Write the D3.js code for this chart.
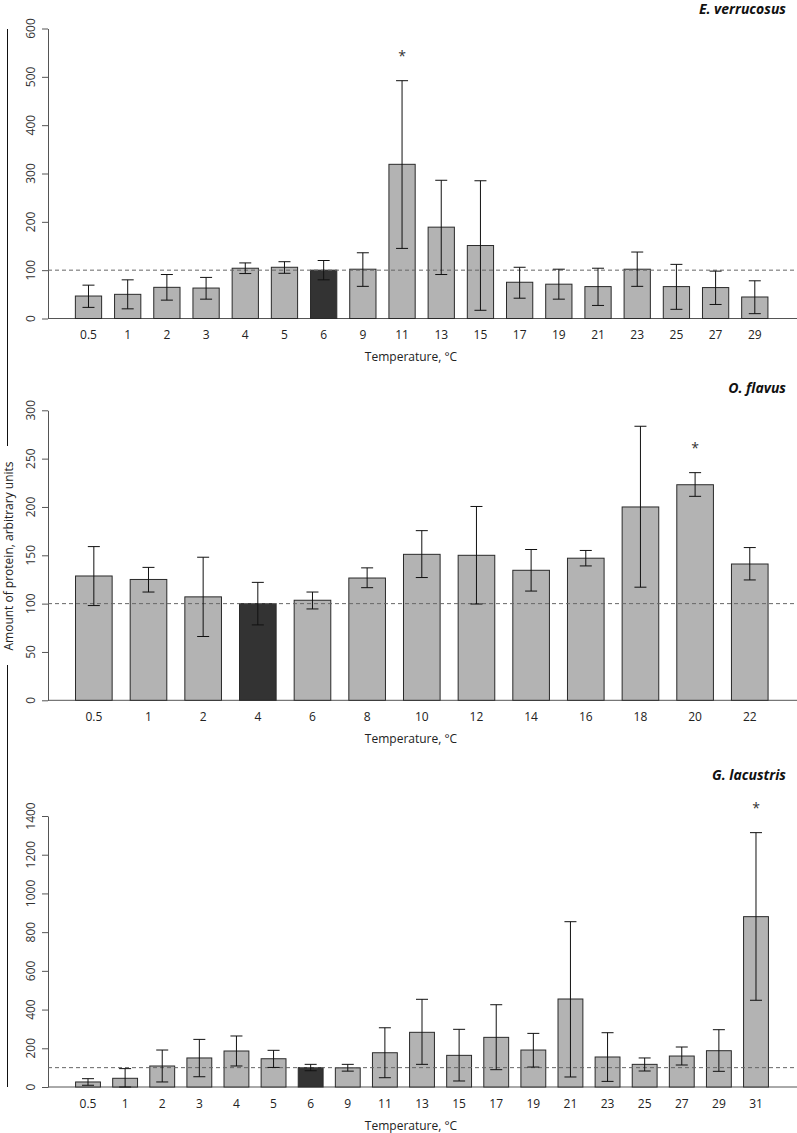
<!DOCTYPE html>
<html><head><meta charset="utf-8">
<script src="https://cdn.jsdelivr.net/npm/d3@7"></script>
<style>body{margin:0;background:#fff}svg{display:block}text{font-family:"Open Sans",sans-serif}</style>
</head><body>
<script>
// ---- data ----
const evCategories = ["0.5","1","2","3","4","5","6","9","11","13","15","17","19","21","23","25","27","29"];
const evValues = [46.5,50,64.5,63,104,106,100,102,319,189,151,75,71,66,102,66,64,44.5];
const evLow    = [23,20,38,40,93,93.5,80,66.5,145,91,17,42,40,27,66.5,19,29,10];
const evHigh   = [69,80,91,85,115,117.5,120,136,492,286,285,106,102,104,137.5,112,98,78];
const evControl = "6";
const evStar = ["11"];
const evTicks = [0,100,200,300,400,500,600];

const ofCategories = ["0.5","1","2","4","6","8","10","12","14","16","18","20","22"];
const ofValues = [128.6,125,107,100,103.5,126.5,151,150,134.5,147,200,223,141];
const ofLow    = [98,112,66,78,94.5,116.5,127,99.6,113,139,117,211,124.5];
const ofHigh   = [159,137.5,148,122,112,137,175.5,200.5,156,155,283.5,235.5,158];
const ofControl = "4";
const ofStar = ["20"];
const ofTicks = [0,50,100,150,200,250,300];

const glCategories = ["0.5","1","2","3","4","5","6","9","11","13","15","17","19","21","23","25","27","29","31"];
const glValues = [26,45,108.5,150,186,146,100,99,177,282.5,163.5,256.5,191,454.6,155,117,160,187.5,880];
const glLow    = [9,0,26,53,108.5,101,84,82,48,117,31,89.5,103,51.7,29,82.6,113.6,81,448];
const glHigh   = [43,95,191,246,263.5,189.5,117,117,306,453,298,425,277,854,280.5,150,206.6,296,1314];
const glControl = "6";
const glStar = ["31"];
const glTicks = [0,200,400,600,800,1000,1200,1400];

const titles = ["E. verrucosus","O. flavus","G. lacustris"];
const xLabel = "Temperature, °C";
const yLabel = "Amount of protein, arbitrary units";
const refLevel = 100;

// ---- layout ----
const W = 797, H = 1133;
const svg = d3.select("body").append("svg").attr("width", W).attr("height", H);

const panels = [
  {cats: evCategories, vals: evValues, lo: evLow, hi: evHigh, ctrl: evControl, star: evStar, ticks: evTicks, title: titles[0],
   y0: 318.5, y1: 28.5, xr: [68.9, 774.4], titleY: 14},
  {cats: ofCategories, vals: ofValues, lo: ofLow, hi: ofHigh, ctrl: ofControl, star: ofStar, ticks: ofTicks, title: titles[1],
   y0: 700.3, y1: 410.3, xr: [66.5, 777.1], titleY: 393},
  {cats: glCategories, vals: glValues, lo: glLow, hi: glHigh, ctrl: glControl, star: glStar, ticks: glTicks, title: titles[2],
   y0: 1087, y1: 816, xr: [69.45, 774.55], titleY: 780}
];

const axisX = 48;

panels.forEach(p => {
  const g = svg.append("g");
  const y = d3.scaleLinear().domain([0, d3.max(p.ticks)]).range([p.y0, p.y1]);
  const x = d3.scaleBand().domain(p.cats).range(p.xr).paddingInner(0.33).paddingOuter(0.165);
  const data = p.cats.map((c, i) => ({c, v: p.vals[i], lo: p.lo[i], hi: p.hi[i]}));

  // y axis (line + ticks via d3.axis, labels drawn rotated)
  const ya = g.append("g").attr("transform", `translate(${axisX},0)`)
    .call(d3.axisLeft(y).tickValues(p.ticks).tickSize(6).tickSizeOuter(0).tickFormat(""));
  ya.select(".domain").attr("stroke", "#555");
  ya.selectAll(".tick line").attr("stroke", "#555");
  ya.selectAll(".tick text").remove();
  g.selectAll("text.yt").data(p.ticks).enter().append("text")
    .attr("transform", d => `translate(30,${y(d)}) rotate(-90)`)
    .attr("text-anchor", "middle").attr("dominant-baseline", "central")
    .attr("font-size", 12).attr("fill", "#333").text(d => d3.format("d")(d));

  // baseline
  g.append("line").attr("x1", axisX).attr("x2", W).attr("y1", y(0)).attr("y2", y(0))
    .attr("stroke", "#555").attr("stroke-width", 1);

  // bars
  g.selectAll("rect.bar").data(data).enter().append("rect")
    .attr("x", d => x(d.c)).attr("width", x.bandwidth())
    .attr("y", d => y(d.v)).attr("height", d => y(0) - y(d.v))
    .attr("fill", d => d.c === p.ctrl ? "#333333" : "#b3b3b3")
    .attr("stroke", "#2a2a2a").attr("stroke-width", 1);

  // dashed reference
  g.append("line").attr("x1", axisX).attr("x2", W).attr("y1", y(refLevel)).attr("y2", y(refLevel))
    .attr("stroke", "#666").attr("stroke-width", 1).attr("stroke-dasharray", "4,3");

  // error bars
  const cap = 6;
  const cx = d => x(d.c) + x.bandwidth()/2;
  const eb = g.selectAll("g.eb").data(data).enter().append("g")
    .attr("stroke", "#111").attr("stroke-width", 1);
  eb.append("line").attr("x1", cx).attr("x2", cx).attr("y1", d => y(d.lo)).attr("y2", d => y(d.hi));
  eb.append("line").attr("x1", d => cx(d) - cap).attr("x2", d => cx(d) + cap)
    .attr("y1", d => y(d.hi)).attr("y2", d => y(d.hi));
  eb.append("line").attr("x1", d => cx(d) - cap).attr("x2", d => cx(d) + cap)
    .attr("y1", d => y(d.lo)).attr("y2", d => y(d.lo));

  // stars
  g.selectAll("text.star").data(data.filter(d => p.star.includes(d.c))).enter().append("text")
    .attr("x", cx).attr("y", d => y(d.hi) - 25)
    .attr("text-anchor", "middle").attr("dominant-baseline", "central")
    .attr("font-size", 14).attr("fill", "#333").text("*");

  // x tick labels
  g.selectAll("text.xt").data(data).enter().append("text")
    .attr("x", cx).attr("y", p.y0 + 16)
    .attr("text-anchor", "middle").attr("dominant-baseline", "central")
    .attr("font-size", 12).attr("fill", "#222").text(d => d.c);

  // x label
  g.append("text").attr("x", 411).attr("y", p.y0 + 38)
    .attr("text-anchor", "middle").attr("dominant-baseline", "central")
    .attr("font-size", 12).attr("fill", "#222").text(xLabel);

  // title
  g.append("text").attr("x", 786).attr("y", p.titleY)
    .attr("text-anchor", "end").attr("font-size", 14)
    .attr("font-weight", "bold").attr("font-style", "italic").attr("fill", "#111").text(p.title);
});

// y label with side lines
svg.append("text").attr("transform", "translate(8,556) rotate(-90)")
  .attr("text-anchor", "middle").attr("dominant-baseline", "central")
  .attr("font-size", 12).attr("fill", "#222").text(yLabel);
svg.append("line").attr("x1", 7.5).attr("x2", 7.5).attr("y1", 29).attr("y2", 446).attr("stroke", "#111");
svg.append("line").attr("x1", 7.5).attr("x2", 7.5).attr("y1", 665).attr("y2", 1087).attr("stroke", "#111");
</script>
</body></html>
